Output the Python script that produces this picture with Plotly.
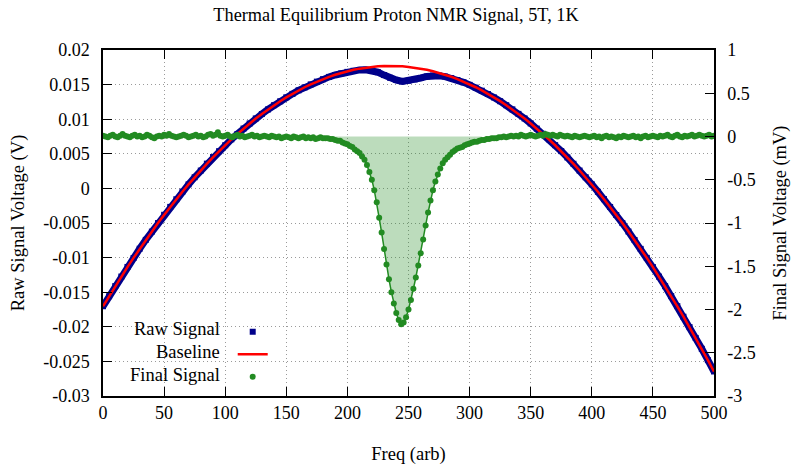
import plotly.graph_objects as go

# Raw signal and baseline sampled every 5 units
freq = list(range(0, 505, 5))
# Final signal sampled every 2 units
freq_final = list(range(0, 502, 2))

final_signal = [
    # 0 .. 182
    0.01, 0.00, -0.01, 0.01, 0.02, 0.00, -0.01, 0.01, 0.03, 0.01,
    0.00, -0.01, 0.01, 0.02, 0.00, 0.01, -0.01, 0.00, 0.02, 0.01,
    -0.01, -0.02, 0.00, 0.01, 0.00, 0.02, 0.01, 0.03, 0.01, 0.00,
    -0.01, 0.00, 0.01, 0.02, 0.01, -0.01, 0.00, 0.01, 0.02, 0.00,
    0.01, -0.01, 0.00, 0.02, 0.03, 0.01, 0.02, 0.05, 0.01, 0.00,
    0.01, 0.02, 0.00, -0.01, 0.01, 0.02, 0.00, 0.01, -0.01, 0.00,
    0.01, 0.02, 0.00, 0.01, -0.01, 0.00, 0.01, 0.00, -0.01, 0.01,
    0.00, -0.01, 0.00, -0.02, -0.01, 0.00, -0.01, -0.02, 0.00, -0.01,
    -0.02, -0.01, 0.00, -0.02, -0.01, -0.02, -0.01, -0.03, -0.02, -0.01,
    -0.02, -0.02,
    # 184 .. 320
    -0.02, -0.03, -0.03, -0.04, -0.05, -0.05, -0.07, -0.08, -0.09, -0.11,
    -0.12, -0.15, -0.17, -0.19, -0.23, -0.27, -0.33, -0.41, -0.50, -0.62,
    -0.76, -0.94, -1.11, -1.30, -1.48, -1.65, -1.80, -1.93, -2.04, -2.12,
    -2.17, -2.15, -2.09, -2.00, -1.89, -1.76, -1.63, -1.49, -1.35, -1.19,
    -1.03, -0.88, -0.74, -0.62, -0.52, -0.44, -0.37, -0.31, -0.27, -0.24,
    -0.21, -0.18, -0.16, -0.14, -0.13, -0.12, -0.10, -0.09, -0.08, -0.07,
    -0.06, -0.06, -0.05, -0.04, -0.04, -0.03, -0.03, -0.02, -0.02,
    # 322 .. 500
    -0.02, -0.01, -0.01, 0.00, -0.01, 0.00, 0.01, 0.00, 0.01, 0.00,
    0.02, 0.01, 0.00, 0.01, 0.02, 0.01, 0.00, 0.01, 0.02, 0.01,
    0.03, 0.02, 0.01, 0.02, 0.01, 0.00, 0.02, 0.01, 0.00, 0.01,
    0.00, -0.01, 0.01, 0.00, -0.01, 0.00, 0.01, 0.00, -0.01, 0.00,
    0.01, -0.01, 0.00, -0.02, 0.00, 0.01, -0.01, 0.00, -0.01, -0.02,
    0.00, -0.01, 0.01, 0.00, -0.01, 0.00, 0.01, -0.01, 0.00, -0.02,
    0.00, 0.01, -0.01, 0.00, 0.01, 0.00, -0.01, 0.01, 0.00, 0.01,
    0.02, 0.00, -0.01, 0.01, 0.02, 0.00, -0.01, 0.01, 0.00, 0.01,
    0.02, 0.00, 0.01, 0.02, 0.01, 0.00, 0.01, 0.02, 0.00, 0.01,
]

baseline = [
    -0.017037, -0.015574, -0.014143, -0.012744, -0.011376, -0.010039, -0.008734, -0.00746, -0.006218, -0.005007,
    -0.003828, -0.00268, -0.001563, -0.000478, 0.000575, 0.001598, 0.002588, 0.003547, 0.004475, 0.005372,
    0.006236, 0.00707, 0.007872, 0.008642, 0.009381, 0.010089, 0.010765, 0.01141, 0.012023, 0.012605,
    0.013155, 0.013674, 0.014162, 0.014618, 0.015042, 0.015436, 0.015797, 0.016127, 0.016426, 0.016694,
    0.016929, 0.017134, 0.017307, 0.017448, 0.017558, 0.017637, 0.017684, 0.0177, 0.017684, 0.017637,
    0.017558, 0.017448, 0.017307, 0.017134, 0.016929, 0.016694, 0.016426, 0.016127, 0.015797, 0.015436,
    0.015042, 0.014618, 0.014162, 0.013674, 0.013155, 0.012605, 0.012023, 0.01141, 0.010765, 0.010089,
    0.009381, 0.008642, 0.007872, 0.00707, 0.006236, 0.005372, 0.004475, 0.003547, 0.002588, 0.001598,
    0.000575, -0.000478, -0.001563, -0.00268, -0.003828, -0.005007, -0.006218, -0.00746, -0.008734, -0.010039,
    -0.011376, -0.012744, -0.014143, -0.015574, -0.017037, -0.01853, -0.020056, -0.021613, -0.023201, -0.02482,
    -0.026472,
]

raw_signal = [
    -0.01703, -0.01558, -0.01412, -0.01274, -0.01135, -0.01005, -0.00872, -0.00744, -0.00624, -0.00501,
    -0.00381, -0.00267, -0.00157, -0.00046, 0.00058, 0.00161, 0.00258, 0.00358, 0.00453, 0.00538,
    0.00624, 0.00709, 0.00786, 0.00865, 0.00938, 0.01011, 0.01075, 0.01141, 0.01203, 0.01259,
    0.01316, 0.01366, 0.01417, 0.01460, 0.01503, 0.01543, 0.01578, 0.01611, 0.01639, 0.01663,
    0.01684, 0.01700, 0.01712, 0.01715, 0.01706, 0.01679, 0.01638, 0.01598, 0.01566, 0.01547,
    0.01556, 0.01575, 0.01596, 0.01618, 0.01631, 0.01629, 0.01616, 0.01594, 0.01566, 0.01533,
    0.01496, 0.01456, 0.01412, 0.01364, 0.01314, 0.01260, 0.01202, 0.01142, 0.01077, 0.01011,
    0.00939, 0.00864, 0.00789, 0.00710, 0.00625, 0.00539, 0.00448, 0.00356, 0.00258, 0.00161,
    0.00058, -0.00049, -0.00155, -0.00268, -0.00385, -0.00501, -0.00623, -0.00745, -0.00874, -0.01004,
    -0.01137, -0.01275, -0.01413, -0.01557, -0.01702, -0.01854, -0.02005, -0.02161, -0.02318, -0.02482,
    -0.02646,
]

fill_start, fill_end = 190, 310

x_ticks = [0, 50, 100, 150, 200, 250, 300, 350, 400, 450, 500]
x_ticktext = ["0", "50", "100", "150", "200", "250", "300", "350", "400", "450", "500"]
y_ticks = [0.02, 0.015, 0.01, 0.005, 0, -0.005, -0.01, -0.015, -0.02, -0.025, -0.03]
y_ticktext = ["0.02", "0.015", "0.01", "0.005", "0", "-0.005", "-0.01", "-0.015", "-0.02", "-0.025", "-0.03"]
y2_ticks = [1, 0.5, 0, -0.5, -1, -1.5, -2, -2.5, -3]
y2_ticktext = ["1", "0.5", "0", "-0.5", "-1", "-1.5", "-2", "-2.5", "-3"]

FONT = "Liberation Serif"
NAVY = "#00008b"
RED = "#ff0000"
GREEN = "#228b22"
GRID = "#9a9a9a"

fx = [x for x in freq_final if fill_start <= x <= fill_end]
fy = [y for x, y in zip(freq_final, final_signal) if fill_start <= x <= fill_end]

fig = go.Figure()
fig.add_trace(go.Scatter(x=fx, y=fy, yaxis="y2", mode="lines", line=dict(width=0, color="rgba(0,0,0,0)"),
                         fill="tozeroy", fillcolor="rgba(34,139,34,0.3)", showlegend=False, hoverinfo="skip"))
fig.add_trace(go.Scatter(x=freq_final, y=final_signal, yaxis="y2", mode="lines",
                         line=dict(color=GREEN, width=1.5), showlegend=False))
fig.add_trace(go.Scatter(x=freq_final, y=final_signal, yaxis="y2", mode="markers", name=" ",
                         marker=dict(color=GREEN, size=6, symbol="circle"), legendrank=3, legendgroup="c"))
fig.add_trace(go.Scatter(x=freq, y=raw_signal, mode="lines", line=dict(color=NAVY, width=7), showlegend=False))
fig.add_trace(go.Scatter(x=freq, y=raw_signal, mode="markers", name=" ",
                         marker=dict(color=NAVY, size=6, symbol="square"), legendrank=1, legendgroup="a"))
fig.add_trace(go.Scatter(x=freq, y=baseline, mode="lines", name=" ", line=dict(color=RED, width=2.5),
                         legendrank=2, legendgroup="b"))

for label, yy in [("Raw Signal", 0.1936), ("Baseline", 0.127), ("Final Signal", 0.0607)]:
    fig.add_annotation(x=0.194, y=yy, xref="paper", yref="paper", text=label, showarrow=False,
                       xanchor="right", yanchor="middle", font=dict(family=FONT, size=18.5, color="black"))

fig.update_layout(
    width=792, height=467,
    margin=dict(l=103, r=78, t=50, b=71),
    paper_bgcolor="white", plot_bgcolor="white",
    font=dict(family=FONT, size=18, color="black"),
    title=dict(text="Thermal Equilibrium Proton NMR Signal, 5T, 1K", x=0.5, xanchor="center",
               y=0.968, yanchor="middle", font=dict(family=FONT, size=18.3)),
    legend=dict(x=0.2123, y=0.233, xanchor="left", yanchor="top", bgcolor="rgba(0,0,0,0)",
                font=dict(size=15), tracegroupgap=0, itemwidth=30),
    xaxis=dict(range=[0, 500], tickvals=x_ticks, ticktext=x_ticktext, ticks="inside", ticklen=9,
               tickcolor="black", showline=True, linecolor="black", linewidth=1.5, mirror="ticks",
               showgrid=True, gridcolor=GRID, griddash="1px,3px", gridwidth=1, zeroline=False,
               automargin=False, title=dict(text="Freq (arb)", standoff=25, font=dict(size=18.5))),
    yaxis=dict(range=[-0.03, 0.02], tickvals=y_ticks, ticktext=y_ticktext, ticks="inside", ticklen=9,
               tickcolor="black", showline=True, linecolor="black", linewidth=1.5,
               showgrid=True, gridcolor=GRID, griddash="1px,3px", gridwidth=1, zeroline=False,
               automargin=False, ticklabelstandoff=8,
               title=dict(text="Raw Signal Voltage (V)", standoff=14, font=dict(size=18.5))),
    yaxis2=dict(range=[-3, 1], overlaying="y", side="right", tickvals=y2_ticks, ticktext=y2_ticktext,
                ticks="inside", ticklen=9, tickcolor="black", showline=True, linecolor="black", linewidth=1.5,
                showgrid=False, zeroline=False, ticklabelstandoff=8, automargin=False,
                title=dict(text="Final Signal Voltage (mV)", standoff=18, font=dict(size=18.5))),
)

fig.write_html("out.html", config={"displayModeBar": False},
               post_script="document.body.style.margin='0';")
